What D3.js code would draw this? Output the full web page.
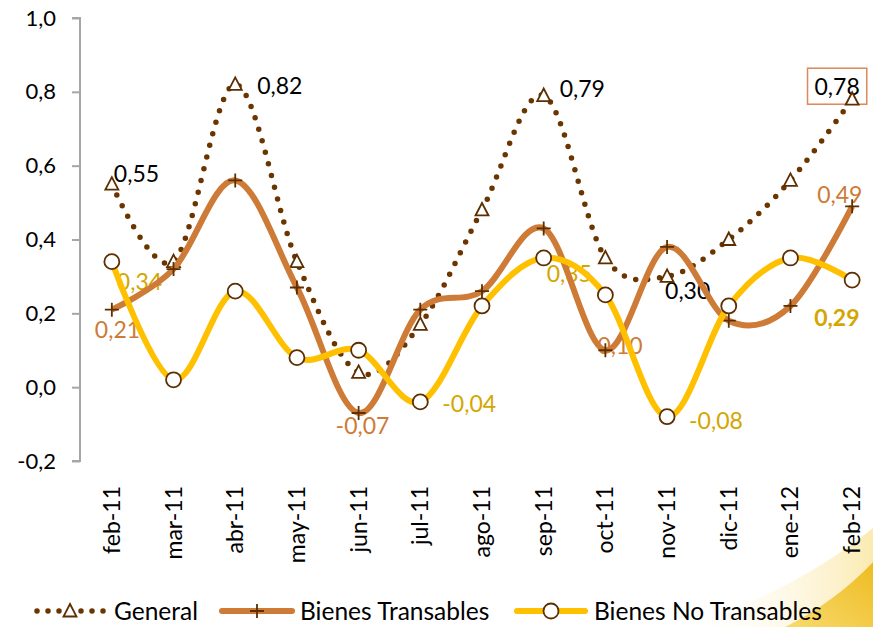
<!DOCTYPE html>
<html>
<head>
<meta charset="utf-8">
<script src="https://cdn.jsdelivr.net/npm/d3@7"></script>
<style>
  body { margin: 0; background: #fff; }
  svg { font-family: Lato, "Open Sans", sans-serif; }
</style>
</head>
<body>
<script>
// chart data
var months = ["feb-11","mar-11","abr-11","may-11","jun-11","jul-11","ago-11","sep-11","oct-11","nov-11","dic-11","ene-12","feb-12"];
var general = [0.55, 0.34, 0.82, 0.34, 0.04, 0.17, 0.48, 0.79, 0.35, 0.30, 0.40, 0.56, 0.78];
var transables = [0.21, 0.32, 0.56, 0.27, -0.07, 0.21, 0.26, 0.43, 0.10, 0.38, 0.18, 0.22, 0.49];
var noTransables = [0.34, 0.02, 0.26, 0.08, 0.10, -0.04, 0.22, 0.35, 0.25, -0.08, 0.22, 0.35, 0.29];
var yTicks = [-0.2, 0, 0.2, 0.4, 0.6, 0.8, 1.0];
var seriesNames = ["General", "Bienes Transables", "Bienes No Transables"];

var W = 873, H = 627;
var fmt = function(v) { return d3.format(".2f")(v).replace(".", ",").replace("−", "-"); };

var svg = d3.select("body").append("svg")
    .attr("width", W)
    .attr("height", H);

// yellow swoosh in the corner
var defs = svg.append("defs");
var g1 = defs.append("linearGradient").attr("id", "sw1")
    .attr("x1", "0").attr("y1", "1").attr("x2", "1").attr("y2", "0");
g1.append("stop").attr("offset", "0").attr("stop-color", "#f8da6e");
g1.append("stop").attr("offset", "1").attr("stop-color", "#eebc22");
var g2 = defs.append("linearGradient").attr("id", "sw2")
    .attr("x1", "0").attr("y1", "0").attr("x2", "1").attr("y2", "0");
g2.append("stop").attr("offset", "0").attr("stop-color", "#fff").attr("stop-opacity", 0);
g2.append("stop").attr("offset", "1").attr("stop-color", "#fbeab0");
svg.append("path")
    .attr("d", "M680,627 Q790,595 873,528 L873,562 Q835,602 785,627 Z")
    .attr("fill", "url(#sw2)");
svg.append("path")
    .attr("d", "M785,627 Q835,602 873,562 L873,627 Z")
    .attr("fill", "url(#sw1)");

var x = d3.scalePoint().domain(months).range([81, 883]).padding(0.5);
var y = d3.scaleLinear().domain([-0.2, 1.0]).range([461, 18]);

// y axis
var yAxis = svg.append("g")
    .attr("transform", "translate(80,0)")
    .call(d3.axisLeft(y).tickValues(yTicks).tickSize(8).tickPadding(16)
        .tickFormat(function(d) { return d3.format(".1f")(d).replace(".", ",").replace("−", "-"); }));
yAxis.selectAll("path, line").attr("stroke", "#a6a6a6").attr("stroke-width", 2);
yAxis.select(".domain").attr("d", "M-8," + y(1.0) + "H0V" + y(-0.2) + "H-8");
yAxis.selectAll("text").attr("font-size", 22).attr("fill", "#000")
    .attr("font-family", "Lato, sans-serif");

// x labels
svg.append("g").selectAll("text")
    .data(months)
    .enter()
    .append("text")
        .attr("transform", function(d) { return "translate(" + (x(d) + 8) + ",486) rotate(-90)"; })
        .attr("text-anchor", "end")
        .attr("font-size", 23)
        .attr("fill", "#000")
        .text(function(d) { return d; });

var dark = "#5c2e00";
var cG = "#6b3500", cT = "#cd7b36", cN = "#ffc000";
var cNlab = "#d4a600";

function lineGen() {
    return d3.line()
        .x(function(d, i) { return x(months[i]); })
        .y(function(d) { return y(d); })
        .curve(d3.curveCardinal.tension(0));
}

// data labels (drawn under lines)
var labels = [
    {s: general, i: 0, c: "#000", dx: 2, dy: -2, a: "start"},
    {s: general, i: 2, c: "#000", dx: 22, dy: 10, a: "start"},
    {s: general, i: 7, c: "#000", dx: 16, dy: 1, a: "start"},
    {s: general, i: 9, c: "#000", dx: -2, dy: 23, a: "start"},
    {s: general, i: 12, c: "#000", dx: -15, dy: -4, a: "middle", box: true},
    {s: transables, i: 0, c: cT, dx: -17, dy: 28, a: "start"},
    {s: transables, i: 4, c: cT, dx: -23, dy: 21, a: "start"},
    {s: transables, i: 8, c: cT, dx: -8, dy: 4, a: "start"},
    {s: transables, i: 12, c: cT, dx: -35, dy: -3, a: "start"},
    {s: noTransables, i: 0, c: cNlab, dx: 5, dy: 28, a: "start"},
    {s: noTransables, i: 5, c: cNlab, dx: 22, dy: 10, a: "start"},
    {s: noTransables, i: 7, c: cNlab, dx: 3, dy: 24, a: "start"},
    {s: noTransables, i: 9, c: cNlab, dx: 22, dy: 12, a: "start"},
    {s: noTransables, i: 12, c: cNlab, dx: -38, dy: 46, a: "start", bold: true}
];
var lab = svg.append("g");
labels.forEach(function(l) {
    var px = x(months[l.i]) + l.dx, py = y(l.s[l.i]) + l.dy;
    var t = lab.append("text")
        .attr("x", px).attr("y", py)
        .attr("text-anchor", l.a)
        .attr("font-size", 23)
        .attr("font-weight", l.bold ? "bold" : null)
        .attr("fill", l.c)
        .text(fmt(l.s[l.i]));
    if (l.box) {
        var bb = t.node().getBBox();
        lab.insert("rect", "text")
            .attr("x", bb.x - 7).attr("y", bb.y - 4)
            .attr("width", bb.width + 14).attr("height", bb.height + 8)
            .attr("fill", "#fff").attr("stroke", "#d9895a").attr("stroke-width", 1.5);
    }
});

// General: dotted
svg.append("path")
    .attr("d", lineGen()(general))
    .attr("fill", "none")
    .attr("stroke", cG)
    .attr("stroke-width", 5.5)
    .attr("stroke-linecap", "round")
    .attr("stroke-dasharray", "0 12");
svg.append("g").selectAll("path")
    .data(general)
    .enter()
    .append("path")
        .attr("transform", function(d, i) { return "translate(" + x(months[i]) + "," + y(d) + ")"; })
        .attr("d", "M0,-7L6.5,5.5H-6.5Z")
        .attr("fill", "#fff")
        .attr("stroke", dark)
        .attr("stroke-width", 1.8);

// Bienes Transables
svg.append("path")
    .attr("d", lineGen()(transables))
    .attr("fill", "none")
    .attr("stroke", cT)
    .attr("stroke-width", 6);
svg.append("g").selectAll("path")
    .data(transables)
    .enter()
    .append("path")
        .attr("transform", function(d, i) { return "translate(" + x(months[i]) + "," + y(d) + ")"; })
        .attr("d", "M-7,0H7M0,-7V7")
        .attr("stroke", dark)
        .attr("stroke-width", 1.8);

// Bienes No Transables
svg.append("path")
    .attr("d", lineGen()(noTransables))
    .attr("fill", "none")
    .attr("stroke", cN)
    .attr("stroke-width", 6);
svg.append("g").selectAll("circle")
    .data(noTransables)
    .enter()
    .append("circle")
        .attr("cx", function(d, i) { return x(months[i]); })
        .attr("cy", function(d) { return y(d); })
        .attr("r", 7.5)
        .attr("fill", "#fff")
        .attr("stroke", dark)
        .attr("stroke-width", 1.8);

// legend
var ly = 611;
var leg = svg.append("g");
leg.append("line").attr("x1", 37).attr("x2", 104).attr("y1", ly).attr("y2", ly)
    .attr("stroke", cG).attr("stroke-width", 5.5).attr("stroke-linecap", "round")
    .attr("stroke-dasharray", "0 11");
leg.append("path").attr("transform", "translate(70," + ly + ")")
    .attr("d", "M0,-7L6.5,5.5H-6.5Z").attr("fill", "#fff").attr("stroke", dark).attr("stroke-width", 1.8);
leg.append("line").attr("x1", 222).attr("x2", 292).attr("y1", ly).attr("y2", ly)
    .attr("stroke", cT).attr("stroke-width", 6).attr("stroke-linecap", "round");
leg.append("path").attr("transform", "translate(257," + ly + ")")
    .attr("d", "M-7,0H7M0,-7V7").attr("stroke", dark).attr("stroke-width", 1.8);
leg.append("line").attr("x1", 517).attr("x2", 585).attr("y1", ly).attr("y2", ly)
    .attr("stroke", cN).attr("stroke-width", 6).attr("stroke-linecap", "round");
leg.append("circle").attr("cx", 551).attr("cy", ly).attr("r", 7.5)
    .attr("fill", "#fff").attr("stroke", dark).attr("stroke-width", 1.8);
var legX = [114, 300, 594];
seriesNames.forEach(function(n, i) {
    leg.append("text").attr("x", legX[i]).attr("y", ly + 9)
        .attr("font-size", 24.5).attr("fill", "#000").text(n);
});
</script>
</body>
</html>
